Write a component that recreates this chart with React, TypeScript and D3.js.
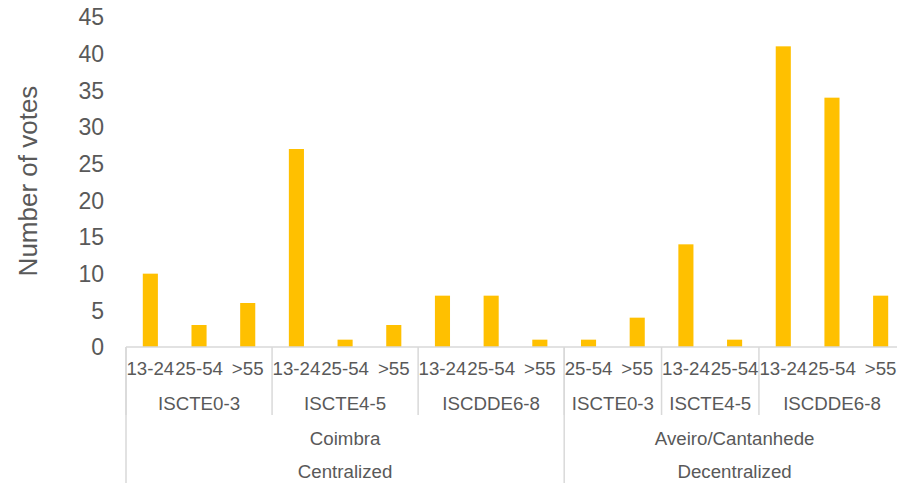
import React from 'react';
import * as d3 from 'd3';

// values
const regions = ['Centralized', 'Decentralized'];
const cities = ['Coimbra', 'Aveiro/Cantanhede'];
const schools = ['ISCTE0-3', 'ISCTE4-5', 'ISCDDE6-8', 'ISCTE0-3', 'ISCTE4-5', 'ISCDDE6-8'];
const schoolRegion = [0, 0, 0, 1, 1, 1];
const ages = ['13-24', '25-54', '>55', '13-24', '25-54', '>55', '13-24', '25-54', '>55', '25-54', '>55', '13-24', '25-54', '13-24', '25-54', '>55'];
const ageSchool = [0, 0, 0, 1, 1, 1, 2, 2, 2, 3, 3, 4, 4, 5, 5, 5];
const votes = [10, 3, 6, 27, 1, 3, 7, 7, 1, 1, 4, 14, 1, 41, 34, 7];
const yTicks = [0, 5, 10, 15, 20, 25, 30, 35, 40, 45];

const W = 897;
const H = 483;
const textColor = '#595959';
const lineColor = '#D9D9D9';
const font = 'Arial, "Liberation Sans", sans-serif';

const App = () => {
  const x = d3.scaleBand<number>().domain(d3.range(ages.length)).range([126, 905]);
  const y = d3.scaleLinear().domain([0, 45]).range([347, 17]);
  const step = x.bandwidth();
  const barW = step * 0.31;

  // span of cells for each school and each region
  const span = (idx: number[]) => [x(d3.min(idx))!, x(d3.max(idx))! + step];
  const schoolSpans = schools.map((_, s) => span(d3.range(ages.length).filter(i => ageSchool[i] === s)));
  const regionSpans = regions.map((_, r) =>
    span(d3.range(ages.length).filter(i => schoolRegion[ageSchool[i]] === r))
  );

  return (
    <svg width={W} height={H} style={{ position: 'absolute', left: 0, top: 0 }} fontFamily={font}>
      <rect width={W} height={H} fill="#fff" />
      <text
        transform={`translate(37,181) rotate(-90)`}
        textAnchor="middle"
        fontSize={26}
        fill={textColor}
      >
        Number of votes
      </text>
      {yTicks.map(t => (
        <text key={t} x={104} y={y(t)} dy="0.36em" textAnchor="end" fontSize={23} fill={textColor}>
          {t}
        </text>
      ))}
      {votes.map((v, i) => (
        <rect
          key={i}
          x={x(i)! + (step - barW) / 2}
          y={y(v)}
          width={barW}
          height={y(0) - y(v)}
          fill="#FFC000"
        />
      ))}
      <line x1={126} x2={905} y1={y(0)} y2={y(0)} stroke={lineColor} strokeWidth={1.5} />
      {schoolSpans.map(([a], s) => (
        <line key={'sd' + s} x1={a} x2={a} y1={y(0)} y2={415} stroke={lineColor} strokeWidth={1.5} />
      ))}
      {regionSpans.map(([a], r) => (
        <line key={'rd' + r} x1={a} x2={a} y1={y(0)} y2={H} stroke={lineColor} strokeWidth={1.5} />
      ))}
      {ages.map((a, i) => (
        <text key={'a' + i} x={x(i)! + step / 2} y={375} textAnchor="middle" fontSize={18.7} fill={textColor}>
          {a}
        </text>
      ))}
      {schools.map((s, i) => (
        <text
          key={'s' + i}
          x={(schoolSpans[i][0] + schoolSpans[i][1]) / 2}
          y={410}
          textAnchor="middle"
          fontSize={18.7}
          fill={textColor}
        >
          {s}
        </text>
      ))}
      {cities.map((c, r) => (
        <text
          key={'c' + r}
          x={(regionSpans[r][0] + regionSpans[r][1]) / 2}
          y={445}
          textAnchor="middle"
          fontSize={18.7}
          fill={textColor}
        >
          {c}
        </text>
      ))}
      {regions.map((g, r) => (
        <text
          key={'g' + r}
          x={(regionSpans[r][0] + regionSpans[r][1]) / 2}
          y={478}
          textAnchor="middle"
          fontSize={18.7}
          fill={textColor}
        >
          {g}
        </text>
      ))}
    </svg>
  );
};

export default App;
